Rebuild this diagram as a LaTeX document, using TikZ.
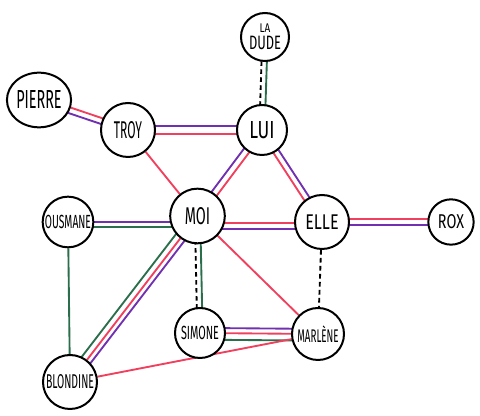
\documentclass[tikz,border=0pt]{standalone}
\usepackage{fontspec}
\setmainfont{Fira Sans}
\usetikzlibrary{calc,backgrounds,shapes.geometric}
\definecolor{cred}{HTML}{F0405E}
\definecolor{cpur}{HTML}{7030B0}
\definecolor{cgrn}{HTML}{2A6E4C}
\newcommand\lbl[3]{\resizebox{#1pt}{#2pt}{#3}}
\begin{document}
\begin{tikzpicture}[x=0.75pt,y=-0.75pt,
  person/.style={circle,draw=black,line width=1.5pt,fill=white,inner sep=0pt,minimum size=#1},
  person/.default=39pt,
  edg/.style={line width=1.4pt},
  offs/.style={to path={($(\tikztostart)!#1!90:(\tikztotarget)$) -- ($(\tikztotarget)!#1!-90:(\tikztostart)$)}},
  dsh/.style={line width=1.4pt,black,dash pattern=on 3.5pt off 2.5pt}]
\useasboundingbox (0,0) rectangle (480,416);

\node[person=36pt,align=center,font=\fontsize{10}{12.5}\selectfont] (ladude) at (265,37) {\lbl{8}{6.5}{LA}\\\lbl{24}{10}{DUDE}};
\node[person=37.5pt] (lui) at (262,130) {\lbl{19}{12.75}{LUI}};
\node[ellipse,draw=black,line width=1.5pt,fill=white,inner sep=0pt,minimum width=46pt,minimum height=41pt] (pierre) at (39,100) {\lbl{34}{13.5}{PIERRE}};
\node[person=40.5pt] (troy) at (128,130) {\lbl{21}{12.75}{TROY}};
\node[person=41pt] (moi) at (197.5,216) {\lbl{19}{12.75}{MOI}};
\node[person=38pt] (ousmane) at (68,222) {\lbl{34.5}{10}{OUSMANE}};
\node[person=40.5pt] (elle) at (322,222) {\lbl{25}{11}{ELLE}};
\node[person=34pt] (rox) at (451,222) {\lbl{19.5}{10.5}{ROX}};
\node[person=37.5pt] (simone) at (200,333) {\lbl{28.5}{10}{SIMONE}};
\node[person=39pt] (marlene) at (318,334) {\lbl{31}{12.5}{MARLÈNE}};
\node[person=40.5pt] (blondine) at (70,382) {\lbl{36}{10.5}{BLONDINE}};

\coordinate (ousH) at (68,224.5);
\coordinate (moiH) at (197.5,224.5);
\coordinate (moiE) at (197.5,226);
\coordinate (elleH) at (322,226);

\begin{scope}[on background layer]
\draw[edg,cred] (pierre) to[offs=2.2pt] (troy);
\draw[edg,cpur] (pierre) to[offs=-2.2pt] (troy);
\draw[edg,cpur] (troy) to[offs=3pt] (lui);
\draw[edg,cred] (troy) to[offs=-3pt] (lui);
\draw[edg,cred] (troy) -- (moi);
\draw[dsh] (lui) to[offs=2pt] (ladude);
\draw[edg,cgrn] (lui) to[offs=-2pt] (ladude);
\draw[edg,cpur] (moi) to[offs=2.4pt] (lui);
\draw[edg,cred] (moi) to[offs=-2.4pt] (lui);
\draw[edg,cpur] (lui) to[offs=2.2pt] (elle);
\draw[edg,cred] (lui) to[offs=-2.2pt] (elle);
\draw[edg,cpur] (ousH) to[offs=2pt] (moiH);
\draw[edg,cgrn] (ousH) to[offs=-2pt] (moiH);
\draw[edg,cred] (moiE) to[offs=2.2pt] (elleH);
\draw[edg,cpur] (moiE) to[offs=-2.2pt] (elleH);
\draw[edg,cred] (elle) to[offs=2.2pt] (rox);
\draw[edg,cpur] (elle) to[offs=-2.2pt] (rox);
\draw[edg,cgrn] (ousmane) -- (blondine);
\draw[edg,cgrn] (blondine) to[offs=4.5pt] (moi);
\draw[edg,cred] (blondine) -- (moi);
\draw[edg,cpur] (blondine) to[offs=-3.6pt] (moi);
\draw[edg,cgrn] (moi) to[offs=2pt] (simone);
\draw[dsh] (moi) to[offs=-2pt] (simone);
\draw[edg,cred] (moi) -- (marlene);
\draw[dsh] (elle) -- (marlene);
\draw[edg,cpur] (simone) to[offs=3.8pt] (marlene);
\draw[edg,cred] (simone) -- (marlene);
\draw[edg,cgrn] (simone) to[offs=-5pt] (marlene);
\draw[edg,cred] (blondine) -- (marlene);
\end{scope}
\end{tikzpicture}
\end{document}
